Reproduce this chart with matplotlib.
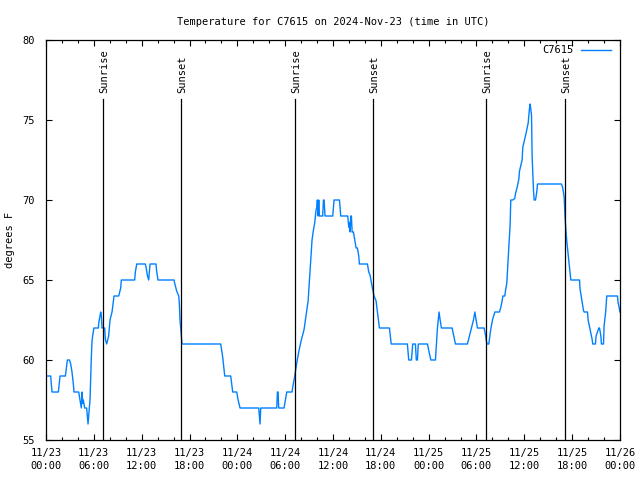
import matplotlib
matplotlib.use("Agg")
import matplotlib.pyplot as plt
from matplotlib.ticker import MultipleLocator

# hours since 2024-11-23 00:00 UTC, temperature in F
hours = [
    0.00, 0.59, 0.75, 1.55, 1.76, 2.43, 2.55, 2.68, 2.95, 3.10, 3.26, 3.43,
    3.51, 4.10, 4.27, 4.43, 4.52, 4.60, 4.68, 4.85, 5.10, 5.19, 5.27, 5.35,
    5.52, 5.69, 5.77, 5.94, 6.02, 6.57, 6.61, 6.78, 6.86, 6.94, 7.03, 7.36,
    7.44, 7.61, 7.86, 8.03, 8.28, 8.36, 8.53, 9.12, 9.37, 9.45, 11.12, 11.21,
    11.38, 12.46, 12.55, 12.71, 12.88, 12.97, 13.05, 13.80, 13.89, 14.05,
    16.06, 16.14, 16.40, 16.65, 16.73, 16.81, 16.98, 17.06,
    21.91, 22.16, 22.42, 23.17, 23.42, 23.92, 24.10, 24.34, 26.68, 26.77,
    26.85, 26.93, 28.94, 29.03, 29.11, 29.19, 29.86, 30.03, 30.20, 30.86,
    30.95, 31.20, 31.45, 31.70, 32.00, 32.37, 32.62, 32.88, 33.12, 33.37,
    33.54, 33.71, 33.88, 33.96, 34.04, 34.13, 34.21, 34.30, 34.71, 34.80,
    34.88, 35.00, 35.97, 36.13, 36.81, 36.97, 37.85, 37.98, 38.06, 38.15,
    38.23, 38.31, 38.40, 38.56, 38.73, 38.90, 39.06, 39.23, 39.31, 40.32,
    40.48, 40.65, 40.90, 41.15, 41.40, 41.57, 41.73, 41.82, 43.08, 43.30,
    45.33, 45.50, 45.84, 46.00, 46.34, 46.45, 46.59, 46.70, 47.85, 48.05,
    48.27, 48.85, 49.10, 49.30, 49.44, 49.60, 50.94, 51.15, 51.36, 52.86,
    53.37, 53.62, 53.80, 53.95, 54.12, 54.96, 55.15, 55.30, 55.55, 55.75,
    56.00, 56.30, 56.88, 57.05, 57.22, 57.30, 57.55, 57.63, 57.80, 57.88,
    57.97, 58.05, 58.22, 58.30, 58.55, 58.80, 58.89, 59.10, 59.31, 59.39,
    59.72, 59.81, 60.23, 60.48, 60.64, 60.73, 60.90, 60.98, 61.15, 61.23,
    61.40, 61.56, 61.65, 64.65, 64.80, 64.99, 65.10, 65.16, 65.33, 65.58,
    65.83, 66.92, 67.00, 67.42, 67.50, 67.92, 68.00, 68.25, 68.50, 68.58,
    68.92, 69.00, 69.34, 69.43, 69.60, 69.67, 69.84, 69.93, 70.00, 70.20,
    70.34, 70.43, 71.68, 71.76, 72.00,
]
temps_f = [
    59, 59, 58, 58, 59, 59, 59.5, 60, 60, 59.75, 59.25, 58.5,
    58, 58, 57.5, 57, 58, 57.3, 57.5, 57, 57, 56.5, 56, 56.5,
    57.5, 60.2, 61.2, 61.8, 62, 62, 62.3, 62.8, 63, 62.8, 62, 62,
    61.3, 61, 61.5, 62.5, 63, 63.3, 64, 64, 64.5, 65, 65, 65.5,
    66, 66, 65.8, 65.3, 65, 65.5, 66, 66, 65.5, 65,
    65, 64.8, 64.3, 64, 63.5, 62.5, 61.5, 61,
    61, 60.2, 59, 59, 58, 58, 57.5, 57, 57, 56.5,
    56, 57, 57, 58, 58, 57, 57, 57.5, 58, 58,
    58.3, 59, 59.8, 60.5, 61.2, 61.9, 62.8, 63.7, 65.6, 67.5,
    68.1, 68.6, 69.4, 69.5, 70, 69, 70, 69, 69, 70,
    70, 69, 69, 70, 70, 69, 69, 68.3, 68.6, 68,
    69, 69, 68, 68, 67.5, 67, 67, 66.5, 66, 66,
    65.5, 65.3, 64.6, 64, 63.7, 63, 62.3, 62, 62, 61,
    61, 60, 60, 61, 61, 60, 60, 61, 61, 60.5,
    60, 60, 62, 63, 62.5, 62, 62, 61.5, 61, 61,
    62, 62.5, 63, 62.5, 62, 62, 61.5, 61, 61, 61.8,
    62.5, 63, 63, 63.3, 63.7, 64, 64, 64.3, 64.8, 65.5,
    66.3, 66.9, 68.5, 70, 70, 70.1, 70.4, 70.8, 71.3, 71.8,
    72.5, 73.3, 74.2, 74.8, 75.7, 76, 75.3, 72.7, 70.6, 70,
    70, 70.5, 71, 71, 70.8, 70.2, 69, 68.5, 67.4, 66.2,
    65, 65, 64.4, 63.1, 63, 63, 62.5, 61.9, 61.3, 61,
    61, 61.5, 62, 62, 61.5, 61, 61, 61, 62.1, 63,
    64, 64, 64, 63.6, 63,
]

event_hours = [7.20, 16.98, 31.27, 41.05, 55.25, 65.15]
event_names = ["Sunrise", "Sunset", "Sunrise", "Sunset", "Sunrise", "Sunset"]

tick_hours = list(range(0, 73, 6))
tick_labels = [
    "11/23\n00:00", "11/23\n06:00", "11/23\n12:00", "11/23\n18:00",
    "11/24\n00:00", "11/24\n06:00", "11/24\n12:00", "11/24\n18:00",
    "11/25\n00:00", "11/25\n06:00", "11/25\n12:00", "11/25\n18:00",
    "11/26\n00:00",
]
y_ticks = [55, 60, 65, 70, 75, 80]

plt.rcParams["font.family"] = ["DejaVu Sans Mono"]
plt.rcParams["font.size"] = 7.5

fig = plt.figure(figsize=(6.4, 4.8), dpi=100)
ax = fig.add_axes([46 / 640, 40 / 480, 574 / 640, 400 / 480])

ax.plot(hours, temps_f, color="#0080ff", lw=1.0, label="C7615")

for h, name in zip(event_hours, event_names):
    ax.axvline(h, ymin=0, ymax=(440 - 99) / 400, color="black", lw=0.9)
    ax.text(h + 0.15, 55 + (440 - 93) / 16, name, rotation=90,
            ha="center", va="bottom", fontsize=7.5)

ax.set_xlim(0, 72)
ax.set_ylim(55, 80)
ax.set_xticks(tick_hours)
ax.set_xticklabels(tick_labels)
ax.xaxis.set_minor_locator(MultipleLocator(2))
ax.set_yticks(y_ticks)
ax.tick_params(which="both", direction="in", top=True, right=True,
               width=0.8, labelsize=7.5)
ax.tick_params(which="major", length=4)
ax.tick_params(which="minor", length=2.5)
ax.tick_params(axis="x", pad=6)
ax.tick_params(axis="y", pad=8)
for lab in ax.get_xticklabels():
    lab.set_linespacing(1.35)
for sp in ax.spines.values():
    sp.set_linewidth(0.9)

ax.set_ylabel("degrees F", fontsize=7.5)
ax.yaxis.set_label_coords(-31 / 574, 0.5)
ax.set_title("Temperature for C7615 on 2024-Nov-23 (time in UTC)",
             fontsize=7.5, pad=11)

ax.legend(loc="upper right", frameon=False, markerfirst=False,
          handlelength=2.8, handletextpad=0.8, borderaxespad=0.5,
          fontsize=7.5, bbox_to_anchor=(1.0, 1.01))

fig.savefig("out.png", dpi=100)
